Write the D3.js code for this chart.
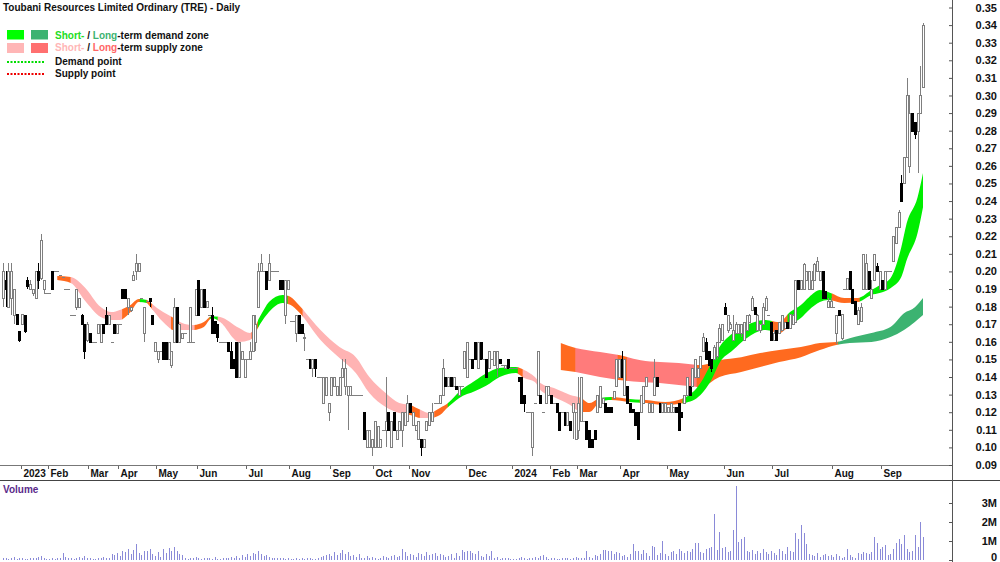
<!DOCTYPE html>
<html>
<head>
<meta charset="utf-8">
<script src="https://cdn.jsdelivr.net/npm/d3@7"></script>
<style>
  html, body { margin: 0; padding: 0; background: #fff; }
  svg { display: block; font-family: "Liberation Sans", Arial, sans-serif; }
</style>
</head>
<body>
<div id="chart"></div>
<script>
// daily bars [open, high, low, close], one per traded session
const candles = [
  [.185,.205,.18,.20],[.195,.20,.18,.19],[.18,.205,.18,.20],[.185,.205,.175,.20],[.175,.19,.17,.19],
  [.176,.176,.17,.17],[.166,.166,.16,.161],[.17,.176,.17,.176],[.175,.175,.165,.166],[.195,.197,.19,.192],
  [.19,.195,.19,.193],[.188,.19,.186,.19],[.185,.20,.185,.20],[.20,.205,.19,.195],[.196,.221,.195,.218],
  [.19,.195,.187,.195],[.188,.188,.188,.188],[.188,.188,.188,.188],[.20,.20,.19,.19],[.20,.20,.20,.20],
  [.20,.20,.20,.20],[.198,.198,.198,.198],[.197,.197,.197,.197],[.19,.19,.19,.19],[.19,.19,.19,.19],
  [.175,.175,.175,.175],[.175,.175,.175,.175],[.18,.19,.178,.19],[.18,.185,.18,.185],[.175,.176,.17,.17],
  [.17,.17,.15,.155],[.161,.171,.16,.17],[.165,.165,.16,.16],[.16,.16,.16,.16],[.16,.16,.16,.16],
  [.165,.17,.165,.17],[.16,.17,.16,.17],[.17,.17,.165,.165],[.175,.18,.17,.17],[.17,.175,.17,.175],
  [.16,.16,.16,.16],[.17,.17,.165,.165],[.165,.17,.165,.17],[.17,.17,.17,.17],[.19,.19,.185,.185],
  [.19,.19,.185,.185],[.18,.185,.175,.185],[.178,.18,.177,.18],[.195,.20,.195,.198],[.20,.21,.195,.205],
  [.20,.205,.20,.205],[.185,.185,.185,.185],[.165,.18,.16,.18],[.183,.183,.183,.183],[.185,.185,.18,.183],
  [.175,.175,.17,.17],[.155,.16,.155,.16],[.15,.155,.148,.155],[.155,.155,.155,.155],[.16,.16,.15,.15],
  [.16,.16,.15,.15],[.15,.16,.15,.16],[.147,.155,.145,.155],[.16,.185,.16,.18],[.18,.18,.16,.16],
  [.16,.17,.16,.17],[.162,.165,.162,.165],[.165,.165,.165,.165],[.16,.16,.16,.16],[.16,.18,.16,.18],
  [.16,.16,.16,.16],[.175,.19,.175,.19],[.195,.195,.175,.175],[.18,.19,.18,.19],[.19,.19,.18,.18],
  [.18,.183,.18,.183],[.175,.175,.175,.175],[.175,.18,.165,.165],[.172,.172,.165,.165],[.17,.17,.16,.163],
  [.16,.16,.16,.16],[.16,.16,.16,.16],[.16,.16,.16,.16],[.16,.16,.155,.155],[.155,.16,.145,.145],
  [.15,.15,.145,.145],[.16,.16,.14,.14],[.14,.16,.14,.16],[.15,.155,.15,.155],[.14,.15,.14,.15],
  [.15,.15,.15,.15],[.15,.16,.15,.155],[.155,.175,.155,.175],[.16,.175,.155,.17],[.18,.205,.18,.20],
  [.20,.21,.20,.205],[.20,.20,.20,.20],[.20,.20,.19,.19],[.195,.21,.195,.205],[.20,.20,.20,.20],
  [.20,.20,.20,.20],[.20,.20,.20,.20],[.195,.195,.19,.19],[.195,.195,.19,.19],[.175,.195,.17,.195],
  [.19,.195,.19,.195],[.172,.172,.172,.172],[.172,.172,.172,.172],[.165,.175,.16,.175],[.175,.175,.165,.165],
  [.17,.17,.165,.165],[.162,.165,.155,.163],[.15,.15,.15,.15],[.15,.15,.145,.145],[.145,.15,.14,.15],
  [.15,.15,.14,.145],[.14,.14,.14,.14],[.14,.14,.14,.14],[.125,.14,.125,.14],[.13,.14,.13,.14],
  [.12,.125,.115,.125],[.13,.14,.13,.14],[.135,.14,.135,.14],[.13,.135,.13,.135],[.13,.14,.13,.14],
  [.14,.15,.14,.145],[.135,.15,.13,.145],[.13,.135,.11,.135],[.13,.135,.13,.135],[.13,.13,.13,.13],
  [.13,.13,.13,.13],[.13,.13,.13,.13],[.13,.13,.13,.13],[.12,.12,.105,.105],[.10,.11,.10,.11],
  [.10,.11,.10,.11],[.10,.105,.095,.105],[.10,.115,.10,.115],[.10,.112,.10,.112],[.10,.105,.10,.105],
  [.11,.11,.11,.11],[.11,.14,.10,.115],[.12,.12,.11,.11],[.10,.115,.10,.115],[.12,.12,.11,.11],
  [.105,.11,.105,.11],[.11,.115,.11,.115],[.11,.12,.10,.12],[.113,.12,.113,.12],[.115,.13,.115,.125],
  [.125,.125,.12,.12],[.113,.12,.113,.12],[.11,.113,.11,.113],[.105,.115,.105,.115],[.105,.105,.095,.10],
  [.10,.105,.10,.105],[.11,.115,.11,.115],[.113,.12,.113,.12],[.115,.125,.115,.12],[.125,.125,.125,.125],
  [.125,.125,.125,.125],[.125,.13,.125,.13],[.13,.15,.13,.145],[.14,.14,.135,.135],[.135,.14,.135,.14],
  [.14,.14,.135,.135],[.135,.14,.135,.14],[.135,.135,.133,.133],[.13,.135,.13,.135],[.135,.135,.135,.135],
  [.145,.155,.145,.155],[.14,.16,.14,.16],[.15,.15,.15,.15],[.15,.15,.145,.145],[.16,.16,.15,.15],
  [.145,.16,.145,.16],[.16,.16,.15,.15],[.15,.15,.15,.15],[.15,.15,.14,.14],[.145,.155,.145,.155],
  [.15,.15,.15,.15],[.147,.155,.147,.155],[.145,.155,.14,.155],[.15,.15,.148,.148],[.147,.147,.147,.147],
  [.145,.147,.145,.147],[.15,.15,.145,.145],[.145,.145,.145,.145],[.145,.145,.145,.145],[.145,.145,.145,.145],
  [.14,.14,.138,.138],[.14,.14,.125,.125],[.13,.13,.12,.125],[.12,.12,.12,.12],[.12,.12,.12,.12],
  [.10,.12,.095,.12],[.125,.125,.125,.125],[.13,.155,.13,.155],[.13,.13,.125,.125],[.12,.12,.12,.12],
  [.125,.135,.125,.135],[.13,.135,.13,.135],[.13,.13,.125,.125],[.125,.125,.125,.125],[.125,.125,.12,.12],
  [.12,.12,.11,.11],[.12,.12,.12,.12],[.12,.12,.113,.113],[.113,.12,.113,.12],[.115,.115,.11,.11],
  [.12,.125,.105,.125],[.105,.12,.105,.12],[.11,.14,.105,.125],[.115,.14,.115,.14],[.115,.115,.115,.115],
  [.115,.115,.105,.105],[.11,.11,.10,.10],[.105,.105,.10,.10],[.11,.11,.105,.105],[.12,.13,.12,.13],
  [.123,.135,.123,.135],[.125,.128,.125,.128],[.125,.125,.12,.12],[.123,.123,.12,.12],[.123,.123,.12,.12],
  [.128,.132,.128,.132],[.135,.15,.135,.15],[.14,.15,.14,.15],[.15,.155,.14,.14],[.13,.15,.13,.15],
  [.135,.135,.125,.125],[.125,.125,.12,.12],[.122,.122,.12,.12],[.12,.12,.113,.113],[.12,.12,.105,.105],
  [.12,.13,.12,.13],[.125,.135,.125,.135],[.135,.14,.135,.14],[.12,.125,.12,.125],[.12,.125,.12,.125],
  [.13,.15,.13,.14],[.14,.14,.135,.135],[.125,.125,.12,.12],[.12,.125,.12,.125],[.12,.125,.12,.125],
  [.12,.123,.12,.123],[.12,.125,.12,.125],[.12,.123,.12,.123],[.123,.123,.12,.12],[.125,.125,.11,.11],
  [.12,.12,.117,.117],[.125,.13,.125,.13],[.13,.14,.13,.14],[.135,.135,.13,.13],[.135,.145,.135,.145],
  [.14,.15,.14,.15],[.14,.145,.14,.145],[.145,.152,.145,.152],[.155,.165,.155,.163],[.16,.162,.15,.15],
  [.155,.155,.146,.147],[.15,.15,.143,.145],[.15,.158,.15,.157],[.152,.16,.15,.16],[.16,.17,.16,.168],
  [.161,.17,.161,.17],[.18,.182,.175,.176],[.167,.175,.165,.175],[.168,.171,.168,.17],[.161,.175,.161,.167],
  [.165,.171,.165,.17],[.165,.17,.165,.17],[.165,.17,.163,.17],[.161,.171,.161,.171],[.167,.175,.167,.175],
  [.171,.176,.171,.175],[.178,.186,.178,.185],[.18,.18,.176,.176],[.167,.176,.167,.175],[.167,.17,.165,.17],
  [.17,.182,.17,.18],[.178,.186,.178,.185],[.175,.175,.175,.175],[.171,.171,.161,.161],[.161,.167,.161,.165],
  [.167,.167,.161,.161],[.165,.171,.165,.171],[.167,.175,.167,.175],[.168,.171,.168,.171],[.171,.171,.168,.168],
  [.168,.176,.168,.176],[.17,.176,.17,.175],[.171,.195,.171,.195],[.195,.195,.19,.19],[.19,.195,.19,.195],
  [.19,.205,.19,.204],[.195,.20,.195,.20],[.19,.20,.19,.20],[.19,.20,.19,.195],[.195,.205,.195,.204],
  [.20,.208,.20,.206],[.195,.20,.195,.20],[.20,.20,.185,.185],[.189,.189,.185,.185],[.18,.185,.18,.183],
  [.18,.185,.18,.183],[.18,.18,.18,.18],[.165,.175,.159,.175],[.178,.178,.175,.175],[.162,.176,.161,.176],
  [.19,.19,.19,.19],[.19,.196,.19,.196],[.20,.20,.19,.19],[.19,.19,.182,.182],[.183,.183,.176,.176],
  [.17,.18,.17,.178],[.172,.182,.172,.18],[.19,.21,.19,.21],[.19,.21,.19,.205],[.20,.20,.19,.19],
  [.185,.195,.185,.19],[.195,.21,.195,.21],[.203,.205,.20,.20],[.19,.20,.19,.20],[.195,.195,.19,.19],
  [.19,.20,.19,.20],[.20,.20,.20,.20],[.20,.20,.20,.20],[.206,.22,.206,.22],[.216,.225,.216,.225],
  [.225,.235,.225,.234],[.25,.255,.24,.24],[.25,.265,.25,.265],[.265,.31,.265,.30],[.26,.30,.256,.29],
  [.29,.29,.28,.28],[.285,.285,.275,.278],[.28,.29,.256,.29],[.29,.317,.29,.30],[.305,.341,.305,.34]
];

// volume in millions of shares, same order as candles
const volumes = [
  0.08,0.12,0.05,0.1,0.15,0.06,0.09,0.12,0.05,0.04,0.1,0.08,0.12,0.15,0.2,0.1,
  0.03,0.05,0.12,0.06,0.08,0.1,0.35,0.15,0.08,0.12,0.06,0.1,0.15,0.08,0.2,
  0.1,0.08,0.05,0.06,0.12,0.1,0.15,0.08,0.12,0.3,0.25,0.35,0.2,
  0.45,0.4,0.6,0.3,0.55,0.85,0.35,0.25,0.5,0.45,0.6,0.3,
  0.2,0.4,0.15,0.6,0.35,0.65,0.5,0.7,0.45,0.3,0.25,
  0.1,0.05,0.12,0.08,0.15,0.1,0.05,0.08,0.12,0.1,0.05,0.15,0.06,0.05,0.1,0.08,0.12,0.15,0.1,
  0.2,0.1,0.25,0.15,0.3,0.2,0.35,0.3,0.45,0.3,0.2,0.25,0.15,
  0.1,0.08,0.12,0.1,0.08,0.06,0.1,0.05,0.04,0.08,0.06,0.1,0.05,0.08,0.12,0.06,0.05,0.1,
  0.15,0.2,0.25,0.3,0.2,0.4,0.25,0.35,0.55,0.3,0.4,0.2,0.25,0.15,0.3,
  0.1,0.12,0.2,0.08,0.15,0.1,0.05,0.1,0.2,0.15,0.08,0.2,0.25,0.15,0.2,0.6,
  0.4,0.2,0.3,0.25,0.15,0.35,0.3,0.2,0.4,0.25,0.3,0.35,0.2,0.3,0.25,0.15,0.2,0.3,0.1,0.35,0.2,
  0.55,0.4,0.5,0.45,0.35,0.3,0.45,0.2,0.15,0.3,0.2,0.5,
  0.1,0.15,0.05,0.08,0.12,0.1,0.05,0.03,0.06,0.1,0.15,0.08,0.04,0.1,0.12,0.15,0.1,0.2,0.25,0.15,
  0.05,0.1,0.08,0.06,0.05,0.1,0.12,0.08,0.05,0.1,0.15,0.08,0.12,0.1,0.5,0.15,
  0.1,0.25,0.2,0.3,0.55,0.55,0.5,0.45,0.3,0.4,0.35,0.2,0.25,0.15,0.3,
  0.85,0.5,0.45,0.3,0.55,0.35,0.2,0.75,0.7,0.25,0.35,1.0,
  0.3,0.2,0.4,0.45,0.3,0.6,0.45,0.35,0.5,0.4,0.6,0.9,0.9,0.4,0.35,
  0.6,0.65,0.7,2.4,0.55,1.5,0.65,0.7,0.4,0.5,1.6,3.9,0.95,1.1,1.2,0.5,
  0.4,0.55,0.3,0.5,0.35,0.6,0.4,0.3,0.5,0.35,0.25,0.6,0.45,0.3,0.7,0.5,0.4,
  1.4,1.1,1.85,1.4,0.85,
  0.3,0.25,0.2,0.35,0.15,0.25,0.3,0.2,0.25,0.15,0.3,0.2,0.1,0.15,0.6,
  0.25,0.15,0.1,0.35,0.3,0.4,0.35,0.3,0.4,
  1.2,0.9,0.6,0.7,0.8,0.25,0.3,0.6,0.9,1.1,0.85,1.3,0.6,0.4,0.5,1.3,0.7,2.0,1.2
];

// first bar of each month
const monthLabels = ["2023","Feb","Mar","Apr","May","Jun","Jul","Aug","Sep","Oct","Nov","Dec",
                     "2024","Feb","Mar","Apr","May","Jun","Jul","Aug","Sep"];
const monthStarts = [7,17,32,43,57,72,90,106,121,137,150,171,188,202,212,228,245,266,284,306,324];

const priceTicks = [0.09,0.10,0.11,0.12,0.13,0.14,0.15,0.16,0.17,0.18,0.19,0.20,0.21,0.22,
                    0.23,0.24,0.25,0.26,0.27,0.28,0.29,0.30,0.31,0.32,0.33,0.34,0.35];
const volumeTicks = [0,1,2,3];
const volumeTickLabels = ["0","1M","2M","3M"];

// short-term zone: bar position, upper edge, lower edge
const shortIdx = [20,25,30,36,40,43,47,50,53,54,59,63,66,70,74,77,80,87,91,95,98,103,106,109,117,124,130,
  135,141,146,150,154,157,161,164,168,174,178,183,189,192,196,198,203,209,213,216,220,224,231,237,244,251,
  257,261,264,269,274,281,286,290,294,297,301,304,310,315,320,323,327,331,333,337,339];
const shortHi = [.1974,.1968,.1912,.1798,.1769,.1781,.1809,.1843,.1838,.1826,.1769,.1735,.1707,.1695,.1712,
  .1746,.1741,.1678,.1650,.1752,.1826,.1866,.1855,.1809,.1667,.1570,.1513,.1400,.1309,.1252,.1241,.1212,
  .1195,.1224,.1252,.1315,.1380,.1420,.1451,.1457,.1440,.1400,.1366,.1337,.1298,.1281,.1252,.1281,.1286,
  .1275,.1269,.1258,.1281,.1366,.1480,.1570,.1650,.1695,.1724,.1712,.1769,.1809,.1854,.1894,.1883,.1849,
  .1849,.1894,.1922,.1962,.2138,.2275,.2422,.2559];
const shortLo = [.1951,.1934,.1838,.1741,.1724,.1724,.1769,.1826,.1820,.1803,.1712,.1667,.1667,.1667,.1684,
  .1735,.1712,.1599,.1610,.1707,.1769,.1820,.1809,.1769,.1610,.1508,.1423,.1309,.1229,.1195,.1184,.1167,
  .1167,.1184,.1229,.1280,.1320,.1350,.1400,.1423,.1394,.1371,.1326,.1286,.1241,.1201,.1201,.1258,.1269,
  .1258,.1252,.1241,.1252,.1298,.1383,.1480,.1553,.1621,.1667,.1650,.1695,.1735,.1781,.1826,.1838,.1820,
  .1826,.1866,.1877,.1905,.1968,.2065,.2218,.2365];
const shortZones = [[20,25,"neutral"],[25,44,"supply"],[44,50.5,"neutral"],[50.5,53,"demand"],[53,55,"neutral"],
  [55,62,"supply"],[62,64.5,"neutral"],[64.5,70.7,"supply"],[70.7,76.3,"neutral"],[76.3,79.2,"demand"],
  [79.2,91.7,"supply"],[91.7,94,"neutral"],[94,105,"demand"],[105,110.5,"neutral"],[110.5,149,"supply"],
  [149,153.7,"neutral"],[153.7,159,"supply"],[159,164,"neutral"],[164,189.8,"demand"],[189.8,191.6,"neutral"],
  [191.6,212.6,"supply"],[212.6,219,"neutral"],[219,224.4,"demand"],[224.4,231,"neutral"],[231,234.7,"demand"],
  [234.7,250.5,"neutral"],[250.5,283.4,"demand"],[283.4,289.2,"neutral"],[289.2,305.5,"demand"],
  [305.5,315.8,"neutral"],[315.8,340,"demand"]];

// long-term zone
const longIdx = [205.5,211,220,227,235,242,249,257,264,272,279,286,294,301,307,312,320,327,332,336,339];
const longHi = [.1593,.1565,.1542,.1525,.1496,.1485,.1479,.1468,.1496,.1513,.1536,.1553,.1570,.1593,.1599,
  .1621,.1650,.1684,.1763,.1797,.1849];
const longLo = [.1440,.1428,.1400,.1383,.1371,.1366,.1354,.1343,.1400,.1428,.1457,.1485,.1513,.1553,.1582,
  .1593,.1599,.1627,.1667,.1712,.1752];
const longZones = [[205.5,211,"neutral"],[211,226.6,"supply"],[226.6,230,"neutral"],[230,255.7,"supply"],
  [255.7,307.7,"neutral"],[307.7,340,"demand"]];

const W = 1000, H = 562;
const zoneColors = {
  short: { demand: "#00ee00", supply: "#ffb3b3", neutral: "#ff6a1f" },
  long:  { demand: "#3cb371", supply: "#ff7b7b", neutral: "#ff6a1f" }
};

const svg = d3.select("#chart").append("svg")
  .attr("width", W)
  .attr("height", H);

const x = d3.scaleLinear().domain([0, candles.length - 1]).range([3, 923]);
const y = d3.scaleLinear().domain([0.09, 0.35]).range([465, 7.5]);
const yVol = d3.scaleLinear().domain([0, 4]).range([560, 484]);
const step = x(1) - x(0);

// zone bands, one clipped copy per colour run
function drawBand(name, idx, hi, lo, zones) {
  const pts = idx.map((v, k) => ({ i: v, hi: hi[k], lo: lo[k] }));
  const area = d3.area()
    .x(d => x(d.i))
    .y0(d => y(d.lo))
    .y1(d => y(d.hi))
    .curve(d3.curveMonotoneX);
  const g = svg.append("g");
  zones.forEach(([a, b, state], k) => {
    const id = `clip-${name}-${k}`;
    svg.append("clipPath").attr("id", id)
      .append("rect")
      .attr("x", x(a) - 0.3).attr("y", 0)
      .attr("width", x(b) - x(a) + 0.6).attr("height", 466);
    g.append("path")
      .datum(pts)
      .attr("d", area)
      .attr("fill", zoneColors[name][state])
      .attr("clip-path", `url(#${id})`);
  });
}
drawBand("long", longIdx, longHi, longLo, longZones);
drawBand("short", shortIdx, shortHi, shortLo, shortZones);

// candles
const bars = svg.append("g").attr("shape-rendering", "crispEdges");
candles.forEach(([o, h, l, c], i) => {
  const cx = Math.round(x(i));
  const up = c >= o;
  const col = up ? "#7f7f7f" : "#000";
  const top = Math.round(y(Math.max(o, c)));
  const bot = Math.round(y(Math.min(o, c)));
  const yh = Math.round(y(h)), yl = Math.round(y(l));
  if (yl > yh) {
    bars.append("line")
      .attr("x1", cx + 0.5).attr("x2", cx + 0.5)
      .attr("y1", yh).attr("y2", yl)
      .attr("stroke", col);
  }
  if (bot - top >= 1) {
    bars.append("rect")
      .attr("x", cx - 0.5).attr("y", top + 0.5)
      .attr("width", 2).attr("height", bot - top)
      .attr("fill", up ? "#fff" : "#000")
      .attr("stroke", col);
  } else {
    bars.append("line")
      .attr("x1", cx - 1).attr("x2", cx + 2)
      .attr("y1", top + 0.5).attr("y2", top + 0.5)
      .attr("stroke", col);
  }
});

// volume
svg.append("g").attr("shape-rendering", "crispEdges")
  .selectAll("rect")
  .data(volumes)
  .join("rect")
  .attr("x", (d, i) => Math.round(x(i)))
  .attr("y", d => yVol(d))
  .attr("width", 1)
  .attr("height", d => yVol(0) - yVol(d))
  .attr("fill", "#8a8ad8");

// frame lines
const lines = svg.append("g").attr("shape-rendering", "crispEdges");
lines.append("line").attr("x1", 0).attr("x2", 952).attr("y1", 465.5).attr("y2", 465.5).attr("stroke", "#777");
lines.append("line").attr("x1", 0).attr("x2", W).attr("y1", 480.5).attr("y2", 480.5).attr("stroke", "#444");
lines.append("line").attr("x1", 952.5).attr("x2", 952.5).attr("y1", 0).attr("y2", H).attr("stroke", "#555");

// price axis
svg.append("g")
  .attr("transform", "translate(952,0)")
  .call(d3.axisRight(y).tickValues(priceTicks).tickFormat(d3.format(".2f")).tickSizeInner(-3).tickSizeOuter(0))
  .call(g => g.select(".domain").remove())
  .call(g => g.selectAll("line").attr("stroke", "#555"))
  .call(g => g.selectAll("text")
    .attr("x", 45).attr("text-anchor", "end")
    .style("font", "bold 11px 'Liberation Sans', Arial, sans-serif").attr("fill", "#111"));

// volume axis
svg.append("g")
  .attr("transform", "translate(952,0)")
  .call(d3.axisRight(yVol).tickValues(volumeTicks).tickFormat((d, k) => volumeTickLabels[k]).tickSizeInner(-3).tickSizeOuter(0))
  .call(g => g.select(".domain").remove())
  .call(g => g.selectAll("line").attr("stroke", "#555"))
  .call(g => g.selectAll("text")
    .attr("x", 45).attr("text-anchor", "end")
    .attr("y", d => d === 0 ? -3 : 0)
    .style("font", "bold 11px 'Liberation Sans', Arial, sans-serif").attr("fill", "#111"));

// month axis
const months = svg.append("g");
monthStarts.forEach((i, k) => {
  const tx = Math.round(x(i) - step / 2) + 0.5;
  months.append("line")
    .attr("x1", tx).attr("x2", tx).attr("y1", 466).attr("y2", 469)
    .attr("stroke", "#666").attr("shape-rendering", "crispEdges");
  months.append("text")
    .attr("x", tx + 2).attr("y", 477)
    .style("font", "bold 10px 'Liberation Sans', Arial, sans-serif")
    .attr("fill", "#111")
    .text(monthLabels[k]);
});

// titles
svg.append("text").attr("x", 3).attr("y", 11)
  .style("font", "bold 10px 'Liberation Sans', Arial, sans-serif").attr("fill", "#111")
  .text("Toubani Resources Limited Ordinary (TRE) - Daily");
svg.append("text").attr("x", 3).attr("y", 493)
  .style("font", "bold 10px 'Liberation Sans', Arial, sans-serif").attr("fill", "#5a2a8a")
  .text("Volume");

// legend
const legend = svg.append("g").style("font", "bold 10px 'Liberation Sans', Arial, sans-serif");
legend.append("rect").attr("x", 7).attr("y", 30).attr("width", 17).attr("height", 9.5).attr("fill", "#00ff00");
legend.append("rect").attr("x", 31).attr("y", 30).attr("width", 17).attr("height", 9.5).attr("fill", "#3cb371");
legend.append("rect").attr("x", 7).attr("y", 43).attr("width", 17).attr("height", 10).attr("fill", "#ffb6b6");
legend.append("rect").attr("x", 31).attr("y", 43).attr("width", 17).attr("height", 10).attr("fill", "#ff7070");

const row1 = legend.append("text").attr("x", 55).attr("y", 38.5).attr("fill", "#111");
row1.append("tspan").attr("fill", "#22dd22").text("Short-");
row1.append("tspan").text(" / ");
row1.append("tspan").attr("fill", "#3cb371").text("Long");
row1.append("tspan").text("-term demand zone");

const row2 = legend.append("text").attr("x", 55).attr("y", 51).attr("fill", "#111");
row2.append("tspan").attr("fill", "#ffb6b6").text("Short-");
row2.append("tspan").text(" / ");
row2.append("tspan").attr("fill", "#ff6666").text("Long");
row2.append("tspan").text("-term supply zone");

legend.append("line").attr("x1", 7).attr("x2", 44).attr("y1", 62).attr("y2", 62)
  .attr("stroke", "#00dd00").attr("stroke-width", 2).attr("stroke-dasharray", "2,1.5");
legend.append("line").attr("x1", 7).attr("x2", 44).attr("y1", 74).attr("y2", 74)
  .attr("stroke", "#ee0000").attr("stroke-width", 2).attr("stroke-dasharray", "2,1.5");
legend.append("text").attr("x", 55).attr("y", 65).attr("fill", "#111").text("Demand point");
legend.append("text").attr("x", 55).attr("y", 77).attr("fill", "#111").text("Supply point");
</script>
</body>
</html>
